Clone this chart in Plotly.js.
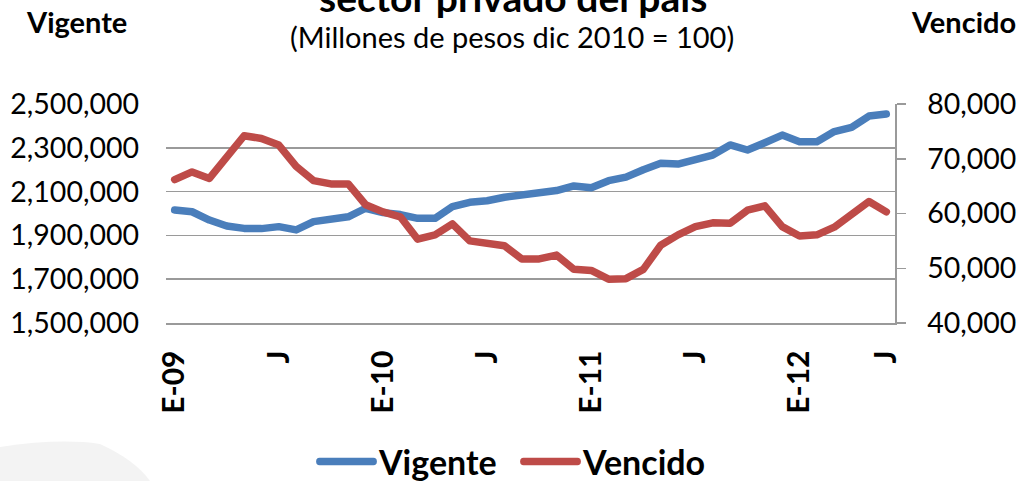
<!DOCTYPE html>
<html>
<head>
<meta charset="utf-8">
<script src="https://cdn.plot.ly/plotly-3.0.1.min.js"></script>
<style>
html,body{margin:0;padding:0;background:#fff;}
#chart{width:1021px;height:481px;}
.scatterlayer path.js-line{stroke-linejoin:round;stroke-linecap:round;}
.legend path.js-line{stroke-linecap:round;transform:translateX(6px) scaleX(0.9);}
</style>
</head>
<body>
<div id="chart"></div>
<script>
const months = ['ene-09','feb-09','mar-09','abr-09','may-09','jun-09','jul-09','ago-09','sep-09','oct-09','nov-09','dic-09',
  'ene-10','feb-10','mar-10','abr-10','may-10','jun-10','jul-10','ago-10','sep-10','oct-10','nov-10','dic-10',
  'ene-11','feb-11','mar-11','abr-11','may-11','jun-11','jul-11','ago-11','sep-11','oct-11','nov-11','dic-11',
  'ene-12','feb-12','mar-12','abr-12','may-12','jun-12'];

const vigente = [2016000,2008000,1970000,1943000,1932000,1931000,1940000,1925000,1963000,1973000,1985000,2024000,
  2004000,1995000,1978000,1978000,2031000,2051000,2058000,2074000,2086000,2093000,2105000,2126000,
  2118000,2150000,2166000,2200000,2229000,2226000,2244000,2267000,2313000,2290000,2323000,2358000,
  2328000,2328000,2374000,2393000,2445000,2454000];

const vencido = [66.2,67.6,66.4,70.3,74.2,73.7,72.5,68.6,66.0,65.4,65.4,61.6,
  60.3,59.4,55.3,56.1,58.1,55.0,54.7,54.1,51.7,51.7,52.4,49.8,
  49.6,48.0,48.1,49.8,54.2,56.1,57.6,58.3,58.2,60.6,61.4,57.6,
  55.9,56.1,57.5,59.7,62.2,60.3].map(v => v * 1000);

const tickVals = ['ene-09','jul-09','ene-10','jul-10','ene-11','jul-11','ene-12','jun-12'];
const tickText = ['E-09','J','E-10','J','E-11','J','E-12','J'];

const FONT = 'Lato, "Open Sans", sans-serif';

const traces = [
  {x: months, y: vigente, name: 'Vigente', type: 'scatter', mode: 'lines',
   line: {color: '#4A7EBB', width: 7.5}, yaxis: 'y'},
  {x: months, y: vencido, name: 'Vencido', type: 'scatter', mode: 'lines',
   line: {color: '#BE4B48', width: 7.5}, yaxis: 'y2'}
];

const L = 166, R = 895, T = 104, B = 323;
const px = v => (v - L) / (R - L);
const py = v => (B - v) / (B - T);

const layout = {
  width: 1021, height: 481,
  margin: {l: L, r: 1021 - R, t: T, b: 481 - B, autoexpand: false},
  paper_bgcolor: '#fff', plot_bgcolor: 'rgba(0,0,0,0)',
  font: {family: FONT, color: '#000'},
  showlegend: true,
  legend: {orientation: 'h', x: px(309), xanchor: 'left', y: py(462), yanchor: 'middle',
           font: {family: FONT, size: 34, color: '#000', weight: 'bold'}, itemwidth: 60,
           entrywidth: 129, entrywidthmode: 'pixels'},
  xaxis: {type: 'category', range: [-0.5, 41.5], tickmode: 'array', tickvals: tickVals, ticktext: tickText,
          tickangle: -90, tickfont: {family: FONT, size: 30, weight: 'bold'},
          showgrid: false, showline: true, linecolor: '#9a9a9a', linewidth: 1.5,
          ticks: '', ticklabelstandoff: 14, fixedrange: true},
  yaxis: {range: [1500000, 2500000], dtick: 200000, tick0: 1500000, tickformat: ',.0f',
          tickfont: {family: FONT, size: 28.5}, showgrid: true, gridcolor: '#9a9a9a', gridwidth: 1.5,
          zeroline: false, showline: false, ticks: '', ticklabelstandoff: 26},
  yaxis2: {overlaying: 'y', side: 'right', range: [40000, 80000], dtick: 10000, tick0: 40000,
           tickformat: ',.0f', tickfont: {family: FONT, size: 28.5}, showgrid: false, zeroline: false,
           showline: true, linecolor: '#9a9a9a', linewidth: 1.5, ticks: 'outside', ticklen: 9,
           tickcolor: '#9a9a9a', tickwidth: 1.5, ticklabelstandoff: 16},
  annotations: [
    {text: '<b>sector privado del país</b>', xref: 'paper', yref: 'paper', x: px(513), y: py(-3),
     xanchor: 'center', yanchor: 'middle', showarrow: false, font: {family: FONT, size: 39, color: '#000'}},
    {text: '(Millones de pesos dic 2010 = 100)', xref: 'paper', yref: 'paper', x: px(512), y: py(37),
     xanchor: 'center', yanchor: 'middle', showarrow: false, font: {family: FONT, size: 29, color: '#000'}},
    {text: '<b>Vigente</b>', xref: 'paper', yref: 'paper', x: px(76), y: py(22),
     xanchor: 'center', yanchor: 'middle', showarrow: false, font: {family: FONT, size: 29, color: '#000'}},
    {text: '<b>Vencido</b>', xref: 'paper', yref: 'paper', x: px(963), y: py(22),
     xanchor: 'center', yanchor: 'middle', showarrow: false, font: {family: FONT, size: 29, color: '#000'}}
  ],
  shapes: [
    {type: 'path', xref: 'paper', yref: 'paper', layer: 'below', line: {width: 0}, fillcolor: '#f3f3f3',
     path: 'M ' + px(0) + ' ' + py(481) + ' L ' + px(0) + ' ' + py(447) + ' Q ' + px(60) + ' ' + py(438) + ' ' + px(100) + ' ' + py(444) +
           ' Q ' + px(135) + ' ' + py(460) + ' ' + px(150) + ' ' + py(481) + ' Z'}
  ]
};

Plotly.newPlot('chart', traces, layout, {displayModeBar: false, staticPlot: true});
</script>
</body>
</html>
